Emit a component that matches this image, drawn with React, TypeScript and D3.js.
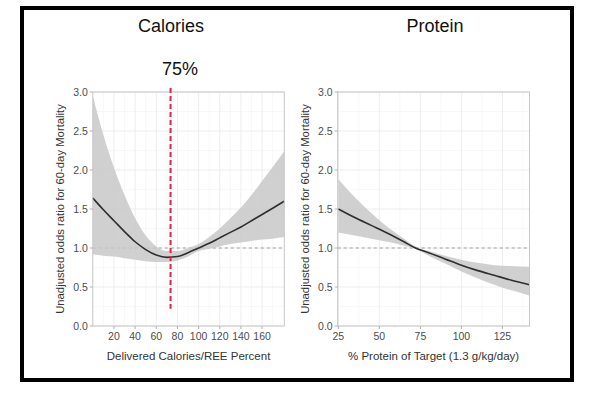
import React from "react";
import * as d3 from "d3";

// Calories panel (x = delivered calories / REE %)
const calX = [0, 10, 20, 30, 40, 50, 60, 70, 80, 90, 100, 110, 120, 130, 140, 150, 160, 170, 181];
const calFit = [1.64, 1.49, 1.35, 1.21, 1.08, 0.98, 0.91, 0.88, 0.89, 0.94, 1.0, 1.06, 1.13, 1.2, 1.27, 1.35, 1.43, 1.51, 1.6];
const calUpper = [2.95, 2.45, 2.03, 1.68, 1.38, 1.16, 1.02, 0.96, 0.96, 1.0, 1.05, 1.14, 1.25, 1.38, 1.52, 1.68, 1.86, 2.04, 2.24];
const calLower = [0.92, 0.9, 0.89, 0.87, 0.85, 0.83, 0.82, 0.82, 0.84, 0.89, 0.96, 0.99, 1.02, 1.05, 1.07, 1.09, 1.11, 1.12, 1.14];
const calTicks = [20, 40, 60, 80, 100, 120, 140, 160];
const calCut = 73.5;
const calCutLabel = "75%";

// Protein panel (x = % protein of target)
const proX = [25, 35, 45, 55, 65, 72, 80, 90, 100, 110, 120, 130, 141.5];
const proFit = [1.5, 1.39, 1.29, 1.19, 1.08, 1.0, 0.94, 0.86, 0.78, 0.71, 0.65, 0.59, 0.53];
const proUpper = [1.88, 1.65, 1.45, 1.27, 1.12, 1.02, 0.96, 0.9, 0.85, 0.81, 0.78, 0.77, 0.76];
const proLower = [1.2, 1.16, 1.12, 1.08, 1.03, 0.99, 0.9, 0.8, 0.7, 0.61, 0.53, 0.46, 0.39];
const proTicks = [25, 50, 75, 100, 125];

const yTicks = [0, 0.5, 1, 1.5, 2, 2.5, 3];
const yTitle = "Unadjusted odds ratio for 60-day Mortality";

const FONT = "'Liberation Sans', Arial, Helvetica, sans-serif";
const TOP = 92;
const BOTTOM = 326;

type PanelProps = {
  left: number;
  right: number;
  domain: [number, number];
  xs: number[];
  fit: number[];
  upper: number[];
  lower: number[];
  ticks: number[];
  xTitle: string;
  cut?: number;
};

function Panel(props: PanelProps) {
  const { left, right, domain, xs, fit, upper, lower, ticks, xTitle, cut } = props;
  const x = d3.scaleLinear().domain(domain).range([left, right]);
  const y = d3.scaleLinear().domain([0, 3]).range([BOTTOM, TOP]);

  const rows = xs.map((v, i) => ({ v, f: fit[i], hi: upper[i], lo: lower[i] }));
  const area = d3
    .area<any>()
    .x((d) => x(d.v))
    .y0((d) => y(d.lo))
    .y1((d) => y(d.hi))
    .curve(d3.curveMonotoneX);
  const line = d3
    .line<any>()
    .x((d) => x(d.v))
    .y((d) => y(d.f))
    .curve(d3.curveMonotoneX);

  const step = ticks[1] - ticks[0];
  const minorX = [ticks[0] - step / 2, ...ticks.map((t) => t + step / 2)].filter(
    (t) => t > domain[0] && t < domain[1]
  );
  const minorY = yTicks.slice(0, -1).map((t) => t + 0.25);

  return (
    <g>
      <rect x={left} y={TOP} width={right - left} height={BOTTOM - TOP} fill="#fff" />
      {minorX.map((t) => (
        <line key={"mx" + t} x1={x(t)} x2={x(t)} y1={TOP} y2={BOTTOM} stroke="#f3f3f3" strokeWidth={0.6} />
      ))}
      {minorY.map((t) => (
        <line key={"my" + t} x1={left} x2={right} y1={y(t)} y2={y(t)} stroke="#f3f3f3" strokeWidth={0.6} />
      ))}
      {ticks.map((t) => (
        <line key={"gx" + t} x1={x(t)} x2={x(t)} y1={TOP} y2={BOTTOM} stroke="#ebebeb" strokeWidth={0.9} />
      ))}
      {yTicks.map((t) => (
        <line key={"gy" + t} x1={left} x2={right} y1={y(t)} y2={y(t)} stroke="#ebebeb" strokeWidth={0.9} />
      ))}

      <line x1={left} x2={right} y1={y(1)} y2={y(1)} stroke="#a0a0a0" strokeWidth={1} strokeDasharray="3,3" />
      <path d={area(rows) || ""} fill="#c8c8c8" fillOpacity={0.85} />
      <path d={line(rows) || ""} fill="none" stroke="#2e2e2e" strokeWidth={1.6} />

      <rect x={left} y={TOP} width={right - left} height={BOTTOM - TOP} fill="none" stroke="#c6c6c6" strokeWidth={1} />

      {cut !== undefined && (
        <line
          x1={x(cut)}
          x2={x(cut)}
          y1={y(3.05)}
          y2={y(0.22)}
          stroke="#dc2640"
          strokeWidth={2}
          strokeDasharray="5,3"
        />
      )}

      {yTicks.map((t) => (
        <g key={"ty" + t}>
          <line x1={left - 3} x2={left} y1={y(t)} y2={y(t)} stroke="#b0b0b0" />
          <text x={left - 5} y={y(t)} dy="0.35em" textAnchor="end" fontSize={10.5} fill="#4d4d4d" fontFamily={FONT}>
            {d3.format(".1f")(t)}
          </text>
        </g>
      ))}
      {ticks.map((t) => (
        <g key={"tx" + t}>
          <line x1={x(t)} x2={x(t)} y1={BOTTOM} y2={BOTTOM + 3} stroke="#b0b0b0" />
          <text x={x(t)} y={BOTTOM + 14} textAnchor="middle" fontSize={10.5} fill="#4d4d4d" fontFamily={FONT}>
            {t}
          </text>
        </g>
      ))}

      <text
        x={(left + right) / 2}
        y={360}
        textAnchor="middle"
        fontSize={11.5}
        fill="#333"
        fontFamily={FONT}
      >
        {xTitle}
      </text>
      <text
        transform={`translate(${left - 33},${(TOP + BOTTOM) / 2}) rotate(-90)`}
        dy="0.35em"
        textAnchor="middle"
        fontSize={11.3}
        fill="#333"
        fontFamily={FONT}
      >
        {yTitle}
      </text>
    </g>
  );
}

export default function App() {
  return (
    <svg
      width={592}
      height={394}
      style={{ position: "absolute", left: 0, top: 0, background: "#fff" }}
    >
      <rect x={0} y={0} width={592} height={394} fill="#fff" />
      <rect x={22} y={8} width={550} height={372} fill="#fff" stroke="#000" strokeWidth={4} />

      <text x={171} y={32} textAnchor="middle" fontSize={18} fill="#111" fontFamily={FONT}>
        Calories
      </text>
      <text x={435} y={32} textAnchor="middle" fontSize={18} fill="#111" fontFamily={FONT}>
        Protein
      </text>
      <text x={180} y={75} textAnchor="middle" fontSize={18} fill="#111" fontFamily={FONT}>
        {calCutLabel}
      </text>

      <Panel
        left={92.8}
        right={284.3}
        domain={[0, 181]}
        xs={calX}
        fit={calFit}
        upper={calUpper}
        lower={calLower}
        ticks={calTicks}
        xTitle="Delivered Calories/REE Percent"
        cut={calCut}
      />
      <Panel
        left={337.7}
        right={529.5}
        domain={[24.6, 141.5]}
        xs={proX}
        fit={proFit}
        upper={proUpper}
        lower={proLower}
        ticks={proTicks}
        xTitle="% Protein of Target (1.3 g/kg/day)"
      />
    </svg>
  );
}
